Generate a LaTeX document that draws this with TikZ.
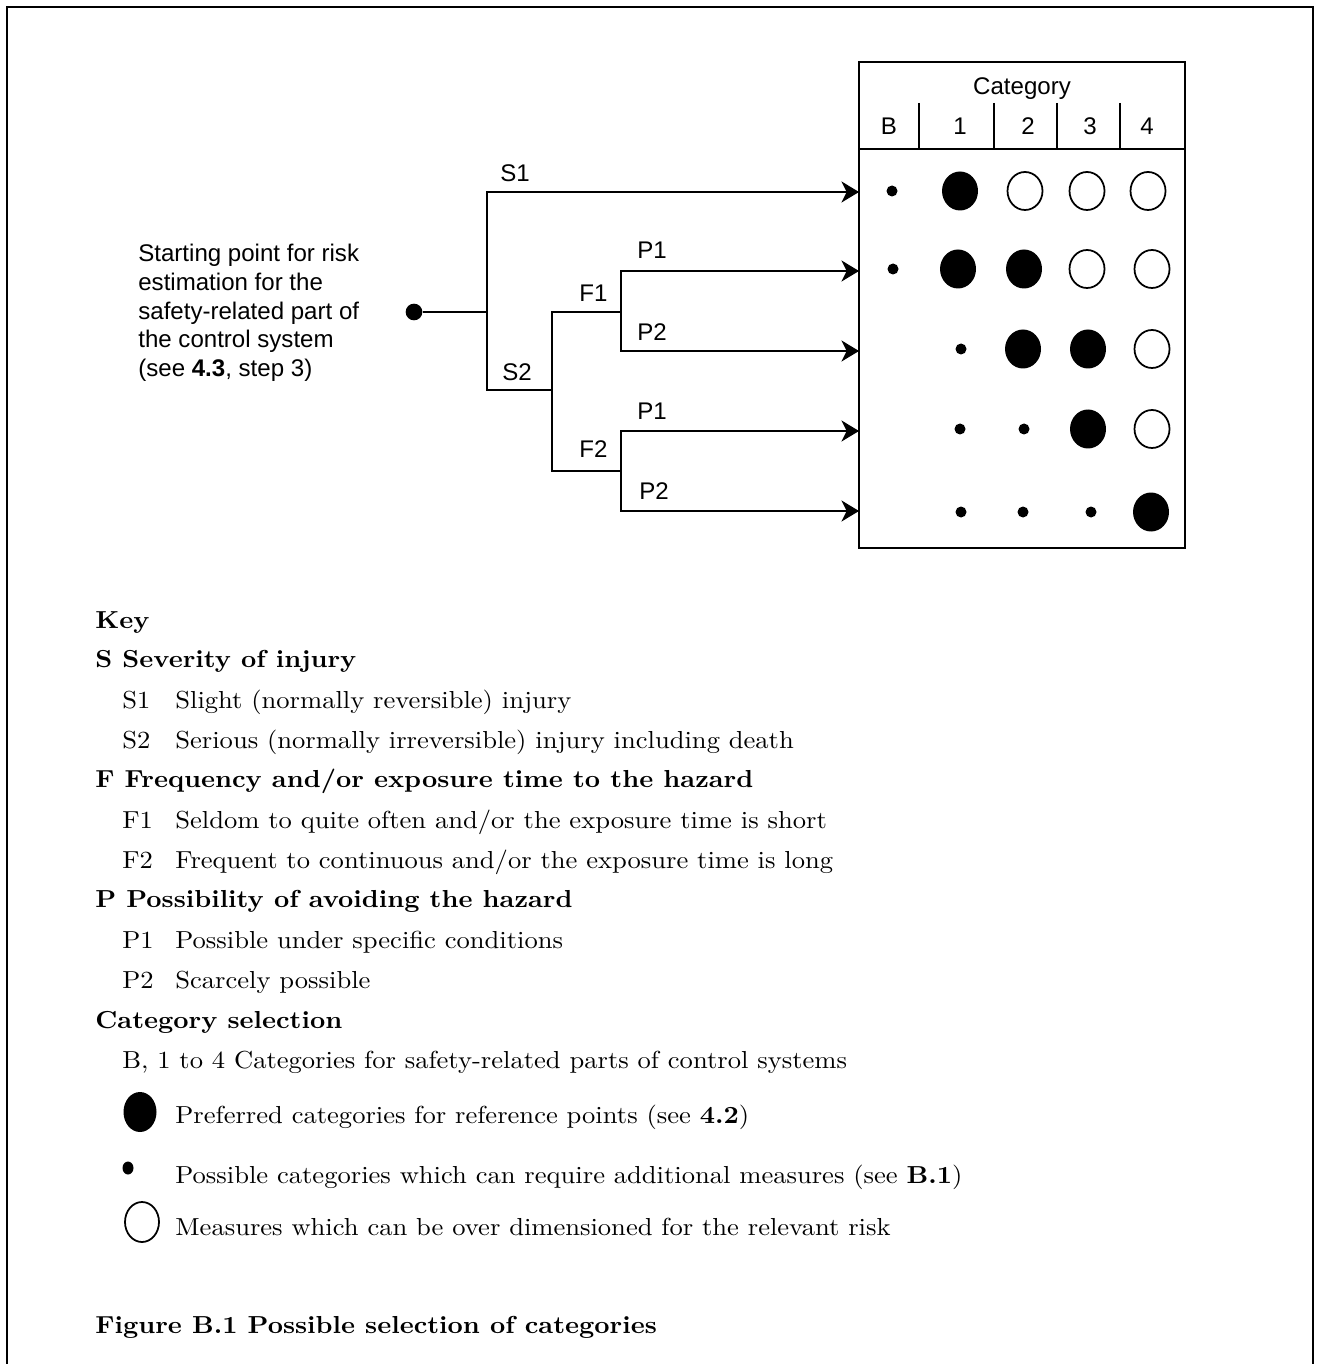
\documentclass[tikz,border=0pt]{standalone}
\usepackage{fontspec}
\setmainfont{lmroman10-regular.otf}[BoldFont=lmroman10-bold.otf,FakeStretch=1.08]
\newfontfamily\arial{Liberation Sans}
\usetikzlibrary{arrows.meta}

\begin{document}
\begin{tikzpicture}[
  x=0.02cm,y=-0.02cm,
  line/.style={line width=1.1pt},
  arr/.style={line width=1.1pt,-{Stealth[length=10pt,width=12pt,inset=3pt]}},
  lbl/.style={anchor=base west,inner sep=0pt,font=\arial\fontsize{13.7}{16.3}\selectfont},
  keytxt/.style={anchor=base west,inner sep=0pt,font=\fontsize{14}{16}\selectfont},
  keyhead/.style={anchor=base west,inner sep=0pt,font=\fontsize{14}{16}\selectfont\bfseries},
  startdot/.style={circle,fill=black,inner sep=0pt,minimum size=9.5pt}
]
\useasboundingbox (0,0) rectangle (1320,1364);
\draw[line] (7,1364) -- (7,7) -- (1313,7) -- (1313,1364);

% tree
\node[lbl,anchor=north west,align=left] (starttxt) at (138,244)
  {Starting point for risk\\estimation for the\\safety-related part of\\the control system\\(see \textbf{4.3}, step 3)};
\node[startdot] (start) at (414,312) {};
\coordinate (sj) at (487,312);
\coordinate (fj) at (552,390);
\coordinate (f1j) at (621,312);
\coordinate (f2j) at (621,471);
\coordinate (r1) at (859,192);
\coordinate (r2) at (859,271);
\coordinate (r3) at (859,351);
\coordinate (r4) at (859,431);
\coordinate (r5) at (859,511);
\draw[line] (start) -- (sj);
\draw[arr] (sj) |- (r1);
\draw[line] (sj) |- (fj);
\draw[line] (fj) |- (f1j);
\draw[line] (fj) |- (f2j);
\draw[arr] (f1j) |- (r2);
\draw[arr] (f1j) |- (r3);
\draw[arr] (f2j) |- (r4);
\draw[arr] (f2j) |- (r5);
\node[lbl] (s1) at (500,182) {S1};
\node[lbl] (s2) at (502,381) {S2};
\node[lbl] (f1) at (579,302) {F1};
\node[lbl] (f2) at (579,458) {F2};
\node[lbl] (p1a) at (637,259) {P1};
\node[lbl] (p2a) at (637,341) {P2};
\node[lbl] (p1b) at (637,419) {P1};
\node[lbl] (p2b) at (639,500) {P2};

% table
\draw[line] (859,62) rectangle (1185,548);
\draw[line] (859,149) -- (1185,149);
\foreach \cx in {919,994,1057,1120}
  \draw[line] (\cx,103) -- (\cx,149);
\node[lbl,anchor=base] (cat) at (1022,95) {Category};
\foreach \cx/\t in {889/B,960/1,1028/2,1090/3,1147/4}
  \node[lbl,anchor=base] (h\t) at (\cx,135) {\t};
\foreach \cx/\cy in {960/191,958/269,1024/269,1023/349,1088/349,1088/429,1151/512}
  \fill (\cx,\cy) ellipse [x radius=18,y radius=19.5];
\foreach \cx/\cy in {1025/191,1087/191,1148/191,1087/269,1152/269,1152/349,1152/429}
  \draw[line width=1pt] (\cx,\cy) ellipse [x radius=17.5,y radius=19];
\foreach \cx/\cy in {892/191,893/269,961/349,960/429,1024/429,961/512,1023/512,1091/512}
  \fill (\cx,\cy) circle [radius=5.5];

% key
\node[keyhead] (key) at (95,628) {Key};
\node[keyhead] (shead) at (95,667) {S Severity of injury};
\node[keyhead] (fhead) at (95,787) {F Frequency and/or exposure time to the hazard};
\node[keyhead] (phead) at (95,907) {P Possibility of avoiding the hazard};
\node[keyhead] (chead) at (95,1028) {Category selection};
\foreach \cy/\c/\t in {708/S1/{Slight (normally reversible) injury},
    748/S2/{Serious (normally irreversible) injury including death},
    828/F1/{Seldom to quite often and/or the exposure time is short},
    868/F2/{Frequent to continuous and/or the exposure time is long},
    948/P1/{Possible under specific conditions},
    988/P2/{Scarcely possible}}{
  \node[keytxt] (k\c) at (122,\cy) {\c};
  \node[keytxt] (t\c) at (175,\cy) {\t};
}
\node[keytxt] (catsel) at (122,1068) {B, 1 to 4 Categories for safety-related parts of control systems};
\fill (140,1112) ellipse [x radius=16.5,y radius=20];
\node[keytxt] (pref) at (175,1123) {Preferred categories for reference points (see \textbf{4.2})};
\fill (128,1168) ellipse [x radius=5.5,y radius=6.5];
\node[keytxt] (poss) at (175,1183) {Possible categories which can require additional measures (see \textbf{B.1})};
\draw[line width=1pt] (142,1222) ellipse [x radius=17,y radius=20];
\node[keytxt] (meas) at (175,1235) {Measures which can be over dimensioned for the relevant risk};
\node[keyhead] (fig) at (95,1333) {Figure B.1 Possible selection of categories};
\end{tikzpicture}
\end{document}
